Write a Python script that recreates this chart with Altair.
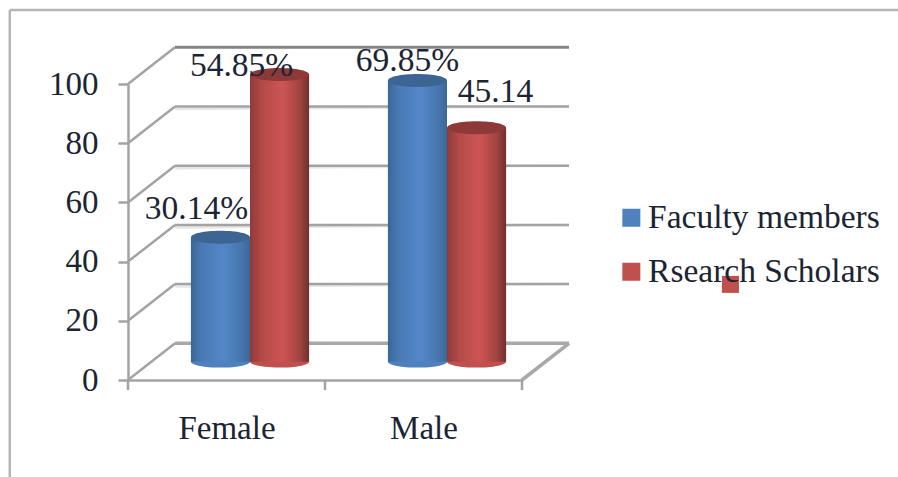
import altair as alt
import pandas as pd

# Chart values: bar heights on the count axis, and the share printed beside each bar
categories = ["Female", "Male"]
series_names = ["Faculty members", "Rsearch Scholars"]
faculty_values = [42, 95]
scholar_values = [97, 79]
faculty_labels = ["30.14%", "69.85%"]
scholar_labels = ["54.85%", "45.14"]
y_ticks = [0, 20, 40, 60, 80, 100]

# Oblique projection of the box, in axis units
DEPTH_X = 0.2386
DEPTH_Y = 12.4
BAR_HALF = 0.15
X_MAX = 2

FONT = "Liberation Serif"
TEXT = "#1b2433"
GRID = "#a3a3a3"
BLUE = "#4f81bd"
RED = "#c0504d"

xs = alt.Scale(domain=[0, X_MAX], range=[0, 394], nice=False, zero=False)
ys = alt.Scale(domain=[0, 100], nice=False, zero=False)

# Every layer shares these, so the layered chart keeps one pair of axes
x_axis = alt.Axis(
    values=[0.5, 1.5],
    labelExpr=f"datum.value < 1 ? '{categories[0]}' : '{categories[1]}'",
    tickSize=0, grid=False,
    domainColor=GRID, domainWidth=2.5,
    labelFont=FONT, labelFontSize=33, labelColor=TEXT, labelPadding=32,
    title=None,
)
y_axis = alt.Axis(
    values=y_ticks, grid=False, tickSize=10,
    tickColor=GRID, tickWidth=2.5, domainColor=GRID, domainWidth=2.5,
    labelFont=FONT, labelFontSize=33, labelColor=TEXT, labelPadding=20,
    title=None,
)


def X(field):
    return alt.X(field, scale=xs, axis=x_axis)


def Y(field):
    return alt.Y(field, scale=ys, axis=y_axis)


def segments(rows, **mark):
    """Straight line pieces given as (x0, y0, x1, y1) rows."""
    frame = pd.DataFrame(rows, columns=["x0", "y0", "x1", "y1"])
    return alt.Chart(frame).mark_rule(**mark).encode(
        x=X("x0:Q"), x2="x1:Q", y=Y("y0:Q"), y2="y1:Q",
    )


def gradient(stops):
    return alt.Gradient(
        gradient="linear",
        x1=0, x2=1, y1=0, y2=0,
        stops=[alt.GradientStop(color=c, offset=o) for o, c in stops],
    )


# Page frame around the figure, then the back wall and the floor
frame_lines = segments(
    [(-0.6, 125, 3.93, 125), (-0.6, 125, -0.6, -33)],
    color="#b4b4b4", strokeWidth=2.5,
)
wall_shadow = segments(
    [(DEPTH_X, t + DEPTH_Y, X_MAX + DEPTH_X, t + DEPTH_Y) for t in y_ticks[1:-1]],
    color="#e6e6e6", strokeWidth=2.5, yOffset=2.5,
)
wall = segments(
    [(DEPTH_X, t + DEPTH_Y, X_MAX + DEPTH_X, t + DEPTH_Y) for t in y_ticks[1:-1]]
    + [(0, t, DEPTH_X, t + DEPTH_Y) for t in y_ticks],
    color=GRID, strokeWidth=2.5,
)
wall_top = segments(
    [(DEPTH_X, 100 + DEPTH_Y, X_MAX + DEPTH_X, 100 + DEPTH_Y)],
    color="#858585", strokeWidth=3,
)
floor_back = segments(
    [(DEPTH_X, DEPTH_Y, X_MAX + DEPTH_X, DEPTH_Y), (X_MAX, 0, X_MAX + DEPTH_X, DEPTH_Y)],
    color="#a8a8a8", strokeWidth=3.5,
)
x_ticks = segments(
    [(i, 0, i, -3.4) for i in range(X_MAX + 1)],
    color=GRID, strokeWidth=2.5,
)

# Cylinders: one table per series, standing halfway back on the floor
lift = DEPTH_Y / 2
shift = DEPTH_X / 2
ELLIPSE_TOP = "M -1 0 A 1 0.22 0 1 0 1 0 A 1 0.22 0 1 0 -1 0 Z"
ELLIPSE_BASE = "M -1 0 A 1 0.2 0 1 0 1 0 A 1 0.2 0 1 0 -1 0 Z"
CAP_SIZE = 59 ** 2

series_styles = [
    (series_names[0], faculty_values, -1, "#3c6594",
     [(0, "#3a6698"), (0.18, "#4a7ab4"), (0.55, "#5387c8"), (0.85, "#4676ae"), (1, "#3b6899")]),
    (series_names[1], scholar_values, 1, "#8c3937",
     [(0, "#8f3b39"), (0.2, "#b24a48"), (0.55, "#cd5553"), (0.85, "#a04341"), (1, "#6f2f2e")]),
]

cylinders = []
for name, values, side, cap, stops in series_styles:
    frame = pd.DataFrame({
        "series": name,
        "mid": [i + 0.5 + shift + side * BAR_HALF for i in range(len(values))],
        "value": values,
    })
    frame["left"] = frame["mid"] - BAR_HALF
    frame["right"] = frame["mid"] + BAR_HALF
    frame["top"] = frame["value"] + lift
    frame["foot"] = lift
    chart = alt.Chart(frame)
    foot = chart.mark_point(
        shape=ELLIPSE_BASE, filled=True, size=CAP_SIZE, opacity=1, strokeWidth=0
    ).encode(
        x=X("mid:Q"),
        y=Y("foot:Q"),
        color=alt.Color(
            "series:N",
            scale=alt.Scale(domain=series_names, range=[BLUE, RED]),
            legend=alt.Legend(
                title=None, orient="none", legendX=486.6, legendY=117,
                symbolType="square", symbolSize=324, symbolStrokeWidth=0,
                symbolOpacity=1, rowPadding=19, labelOffset=0, padding=0,
                labelFont=FONT, labelFontSize=33.5, labelColor=TEXT, labelLimit=300,
            ),
        ),
    )
    body = chart.mark_rect(color=gradient(stops)).encode(
        x=X("left:Q"), x2="right:Q", y=Y("top:Q"), y2="foot:Q",
    )
    lid = chart.mark_point(
        shape=ELLIPSE_TOP, filled=True, size=CAP_SIZE, opacity=1, strokeWidth=0, color=cap
    ).encode(x=X("mid:Q"), y=Y("top:Q"))
    cylinders += [foot, body, lid]

# Share labels, each nudged clear of its cylinder: (text, series side, category, height, dx, dy)
label_rows = [
    (faculty_labels[0], -1, 0, faculty_values[0], -24, -18),
    (scholar_labels[0], 1, 0, scholar_values[0], -38, 1),
    (faculty_labels[1], -1, 1, faculty_values[1], -10, -9),
    (scholar_labels[1], 1, 1, scholar_values[1], 19, -26),
]
labels = []
for text, side, cat, height, dx, dy in label_rows:
    frame = pd.DataFrame({
        "text": [text],
        "mid": [cat + 0.5 + shift + side * BAR_HALF],
        "top": [height + lift],
    })
    labels.append(
        alt.Chart(frame).mark_text(
            font=FONT, fontSize=33.5, color=TEXT, align="center", baseline="alphabetic", dx=dx, dy=dy
        ).encode(x=X("mid:Q"), y=Y("top:Q"), text="text:N")
    )

# Small stray square sitting on the second legend entry
stray_x = [3.058]
stray_y = [32.3]
stray = alt.Chart(pd.DataFrame({"x": stray_x, "y": stray_y})).mark_square(
    size=289, color=RED, opacity=1, strokeWidth=0
).encode(x=X("x:Q"), y=Y("y:Q"))

chart = alt.layer(
    frame_lines, wall_shadow, wall, wall_top, floor_back, x_ticks,
    *cylinders, *labels, stray,
).properties(
    width=394,
    height=296,
    padding={"left": 128, "top": 84, "right": 376, "bottom": 97},
    autosize=alt.AutoSizeParams(type="none"),
    background="white",
).configure_view(stroke=None)

chart.save("out.html", embed_options={"renderer": "svg", "actions": False})
